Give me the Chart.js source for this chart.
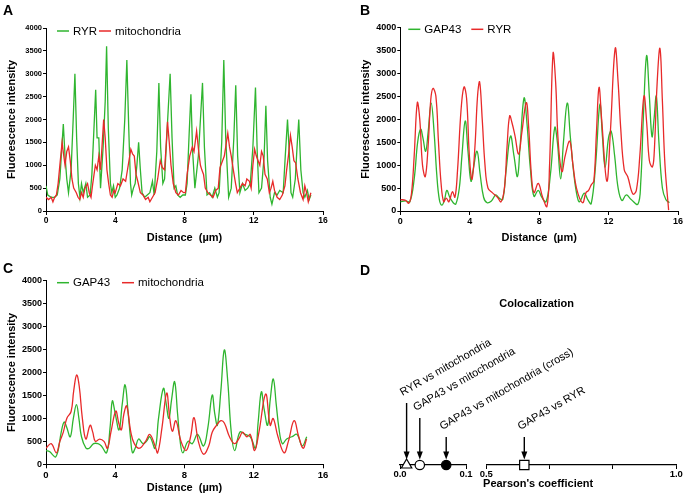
<!DOCTYPE html>
<html><head><meta charset="utf-8">
<script src="https://cdn.jsdelivr.net/npm/chart.js@4/dist/chart.umd.min.js"></script>
<style>
html,body{margin:0;padding:0;background:#fff;}
#wrap{position:relative;width:686px;height:502px;overflow:hidden;background:#fff;}
canvas{position:absolute;}
.lt{position:absolute;font:bold 14px "Liberation Sans",Arial,sans-serif;line-height:14px;color:#000;}
</style></head><body>
<div id="wrap">
<canvas id="cA" width="343" height="250" style="left:0;top:0"></canvas>
<canvas id="cB" width="343" height="250" style="left:343px;top:0"></canvas>
<canvas id="cC" width="343" height="252" style="left:0;top:250px"></canvas>
<canvas id="cD2" width="343" height="252" style="left:343px;top:250px"></canvas>
<canvas id="cD1" width="343" height="252" style="left:343px;top:250px"></canvas>
<div class="lt" style="left:3px;top:3px">A</div>
<div class="lt" style="left:360px;top:3px">B</div>
<div class="lt" style="left:3px;top:261px">C</div>
<div class="lt" style="left:360px;top:263px">D</div>
</div>
<script>
// ---------- DATA ----------
const xTicksLine = [0, 4, 8, 12, 16];
// Panel A
const aRyrX = [0,0.1,0.3,0.5,0.65,0.8,0.9,1.0,1.1,1.2,1.3,1.45,1.57,1.67,1.77,1.87,1.96,2.05,2.15,2.3,2.4,2.55,2.65,2.77,2.87,2.95,3.05,3.15,3.3,3.42,3.5,3.6,3.72,3.8,3.9,4.0,4.1,4.25,4.4,4.55,4.67,4.78,4.88,4.95,5.05,5.15,5.25,5.35,5.45,5.55,5.7,5.85,6.0,6.15,6.25,6.4,6.52,6.62,6.75,6.85,7.0,7.17,7.28,7.4,7.5,7.6,7.75,7.9,8.05,8.15,8.27,8.37,8.47,8.6,8.8,8.92,9.04,9.15,9.3,9.45,9.6,9.75,9.9,10.0,10.15,10.27,10.38,10.55,10.7,10.85,10.96,11.07,11.2,11.35,11.5,11.65,11.8,11.95,12.1,12.2,12.3,12.45,12.6,12.7,12.8,12.95,13.05,13.2,13.35,13.5,13.7,13.82,13.95,14.05,14.15,14.25,14.4,14.5,14.6,14.72,14.85,14.95,15.1,15.2,15.3];
const aRyrY = [550,350,300,300,350,700,1300,1900,1200,700,400,900,2000,3000,1600,600,300,600,400,600,300,350,800,1800,2650,1600,1600,500,1400,2400,3600,1800,600,400,550,300,350,500,900,2000,3300,1800,600,350,500,600,1000,1500,900,400,300,350,400,650,350,1300,2800,1400,600,700,1800,3000,1600,500,550,350,300,350,350,600,1700,2550,1300,500,1200,2000,2800,1400,350,400,300,500,300,400,1500,3300,1600,300,500,1600,2750,1200,400,600,450,500,600,1400,2700,1300,400,500,1200,2300,1100,300,150,400,350,450,400,1200,2000,1300,400,300,700,1400,2000,900,400,300,450,250,350];
const aMitoX = [0,0.15,0.3,0.4,0.5,0.6,0.7,0.8,0.93,1.03,1.1,1.2,1.3,1.4,1.5,1.6,1.75,1.85,1.95,2.05,2.15,2.25,2.4,2.5,2.6,2.7,2.85,2.95,3.05,3.15,3.25,3.33,3.42,3.52,3.62,3.72,3.82,3.92,4.0,4.15,4.3,4.45,4.6,4.75,4.9,5.0,5.1,5.2,5.3,5.45,5.6,5.75,5.9,6.0,6.15,6.3,6.45,6.6,6.72,6.85,6.95,7.02,7.12,7.22,7.35,7.5,7.65,7.8,7.95,8.05,8.15,8.3,8.45,8.55,8.7,8.82,8.92,9.0,9.1,9.2,9.35,9.5,9.65,9.8,9.95,10.05,10.2,10.3,10.42,10.5,10.6,10.7,10.82,10.95,11.05,11.2,11.35,11.5,11.6,11.75,11.85,11.95,12.05,12.15,12.25,12.35,12.45,12.55,12.65,12.78,12.9,13.0,13.1,13.2,13.35,13.5,13.65,13.8,13.9,14.0,14.12,14.22,14.32,14.42,14.55,14.7,14.85,14.95,15.05,15.15,15.3];
const aMitoY = [300,250,300,200,300,350,600,1000,1500,1200,1000,1300,1400,1100,700,500,400,300,250,400,300,500,600,400,300,600,1000,900,1200,900,1500,2000,1600,900,600,350,300,450,400,600,550,700,650,1000,1350,1250,1200,800,650,400,350,250,300,200,300,400,700,1100,950,900,1500,1950,1500,1000,600,400,350,450,400,400,800,1200,1400,1300,1750,1300,1000,900,800,500,400,350,300,450,500,950,1100,1200,1500,1700,1400,1200,900,600,400,500,600,550,700,650,500,1000,1350,1200,1100,1000,1300,1200,800,700,400,500,650,450,300,250,350,550,900,1200,1650,1400,1100,1050,700,400,250,550,400,200,400];
// Panel B
const bGapX = [0,0.3,0.55,0.8,1.0,1.17,1.3,1.46,1.6,1.78,1.95,2.1,2.25,2.4,2.55,2.68,2.85,3.05,3.2,3.4,3.55,3.74,3.9,4.07,4.2,4.42,4.6,4.8,5.0,5.25,5.5,5.7,5.9,6.1,6.35,6.55,6.75,6.9,7.13,7.3,7.5,7.7,7.95,8.15,8.4,8.65,8.9,9.05,9.24,9.4,9.62,9.8,10.0,10.2,10.33,10.6,10.8,11.0,11.25,11.5,11.65,11.8,12.0,12.15,12.35,12.55,12.77,13.02,13.3,13.69,13.85,14.0,14.19,14.35,14.5,14.62,14.75,14.9,15.1,15.3,15.5];
const bGapY = [200,220,200,700,1500,1780,1600,1300,1700,2350,1700,800,250,130,250,450,300,180,150,500,1200,1960,1300,650,900,1300,800,300,180,220,350,280,250,900,1630,1200,750,1400,2460,1900,900,320,450,300,200,800,1820,1500,700,1500,2350,1600,800,300,200,390,250,160,1000,2320,1600,950,1600,1740,1200,500,230,350,250,150,600,2000,3380,2500,1620,2000,2500,1500,500,250,180];
const bRyrX = [0,0.3,0.5,0.65,0.8,0.98,1.12,1.28,1.44,1.6,1.75,1.88,2.05,2.2,2.35,2.5,2.65,2.8,3.0,3.15,3.3,3.5,3.67,3.82,3.98,4.13,4.3,4.45,4.57,4.72,4.88,5.05,5.3,5.6,5.8,6.0,6.15,6.3,6.45,6.6,6.82,7.0,7.26,7.4,7.55,7.7,7.95,8.2,8.45,8.6,8.8,8.95,9.1,9.31,9.5,9.76,9.95,10.15,10.5,10.7,10.85,11.0,11.15,11.3,11.45,11.6,11.9,12.1,12.38,12.55,12.7,12.9,13.1,13.4,13.6,13.8,14.04,14.2,14.35,14.52,14.62,14.8,14.96,15.1,15.25,15.46];
const bRyrY = [250,230,170,400,1200,2360,2000,1000,750,1400,2400,2670,2500,1500,600,200,280,200,420,300,900,2200,2700,2450,1200,690,1400,2500,2810,2000,1000,500,400,300,200,500,1400,2070,1900,1650,1240,1700,2360,1800,800,400,600,300,100,1000,3430,2800,1500,860,1200,1520,1000,500,180,400,450,570,650,1700,2690,2000,650,1700,3540,2800,1800,900,750,370,450,1200,2500,1900,1100,960,1200,2800,3540,2400,1000,20];
// Panel C
const cGapX = [0,0.2,0.4,0.55,0.7,0.88,1.05,1.2,1.4,1.58,1.76,1.9,2.05,2.3,2.5,2.75,3.0,3.2,3.5,3.7,3.83,4.0,4.22,4.4,4.57,4.75,4.9,5.0,5.15,5.35,5.6,5.8,6.0,6.3,6.5,6.78,6.95,7.1,7.25,7.43,7.6,7.75,7.9,8.2,8.45,8.75,9.1,9.35,9.6,9.75,9.9,10.1,10.3,10.5,10.7,10.9,11.2,11.5,11.8,12.1,12.25,12.44,12.6,12.8,12.95,13.13,13.3,13.45,13.65,13.9,14.2,14.5,14.8,15.06];
const cGapY = [300,280,200,160,300,700,920,800,600,1000,1300,1000,600,360,350,450,450,400,250,800,1380,1100,750,1300,1730,1100,500,250,350,550,450,500,600,350,1000,1655,1300,1000,1400,1800,1100,500,250,500,450,650,400,800,1510,1100,850,1600,2490,1800,700,300,700,650,600,350,900,1580,1200,850,1400,1860,1300,800,450,550,600,650,400,600];
const cMitoX = [0,0.3,0.6,0.8,1.0,1.2,1.45,1.6,1.77,1.92,2.1,2.3,2.55,2.7,2.85,3.1,3.35,3.55,3.75,4.03,4.2,4.35,4.5,4.66,4.9,5.1,5.4,5.75,6.0,6.3,6.45,6.7,6.97,7.15,7.3,7.5,7.8,8.1,8.35,8.55,8.8,9.1,9.4,9.6,9.85,10.1,10.3,10.6,10.9,11.2,11.35,11.6,11.8,12.05,12.3,12.69,12.95,13.12,13.4,13.75,14.0,14.33,14.6,14.85,15.05];
const cMitoY = [350,450,250,500,700,1000,1150,1600,1945,1700,1000,550,850,700,500,550,500,350,700,1160,900,750,1100,1270,700,450,350,500,650,400,250,800,1550,1000,720,950,500,300,600,1016,500,220,400,700,850,950,900,600,450,600,700,600,650,300,700,1530,850,1000,600,250,500,950,600,350,550];
// Panel D
const dLabels = ['RYR vs mitochondria','GAP43 vs mitochondria','GAP43 vs mitochondria (cross)','GAP43 vs RYR'];
const dPearson = [0.01, 0.03, 0.07, 0.60];
const dLeftTicks = [0, 0.1];
const dLeftTickLabels = ['0.0','0.1'];
const dRightTicks = [0.5, 0.6667, 0.8333, 1.0];
const dRightTickLabels = ['0.5','','','1.0'];

// ---------- STYLE ----------
const FF = '"Liberation Sans", Arial, sans-serif';
Chart.defaults.font.family = FF;
Chart.defaults.color = '#000';
const GREEN = '#2fb52f', RED = '#e82a2a';
const pts = (xs, ys) => xs.map((x, i) => ({x, y: ys[i]}));

const inlineLegend = {
  id: 'inlineLegend',
  afterDatasetsDraw(chart, args, o) {
    if (!o || !o.xs) return;
    const ctx = chart.ctx, ca = chart.chartArea;
    ctx.save();
    ctx.font = o.size + 'px ' + FF;
    ctx.textBaseline = 'middle';
    chart.data.datasets.forEach((ds, i) => {
      const x = ca.left + o.xs[i], y = ca.top + o.dy;
      ctx.strokeStyle = ds.borderColor; ctx.lineWidth = 1.5;
      ctx.beginPath(); ctx.moveTo(x, y); ctx.lineTo(x + 12, y); ctx.stroke();
      ctx.fillStyle = '#000';
      ctx.fillText(ds.label, x + 16, y + 0.5);
    });
    ctx.restore();
  }
};

function lineChart(id, g) {
  return new Chart(document.getElementById(id), {
    type: 'line',
    data: { datasets: [
      { label: g.names[0], data: pts(g.x0, g.y0), borderColor: GREEN, order: 1 },
      { label: g.names[1], data: pts(g.x1, g.y1), borderColor: RED, order: 0 }
    ]},
    options: {
      responsive: false, animation: false, devicePixelRatio: 1,
      parsing: false,
      elements: {
        point: { radius: 0 },
        line: { borderWidth: 1.3, tension: g.smooth ? 0.4 : 0, cubicInterpolationMode: 'default' }
      },
      layout: { padding: { left: 0, top: g.top, right: g.right, bottom: 0 } },
      plugins: { legend: { display: false }, tooltip: { enabled: false },
        inlineLegend: { xs: g.legX, dy: g.legDy, size: 11.5 } },
      scales: {
        x: { type: 'linear', min: 0, max: 16,
          afterBuildTicks: s => { s.ticks = xTicksLine.map(v => ({value: v})); },
          ticks: { font: { size: g.xtf, weight: 'bold' }, padding: 1, maxRotation: 0, callback: v => String(v) },
          grid: { drawOnChartArea: false, drawTicks: true, tickLength: 4, color: '#000' },
          border: { display: true, color: '#000', width: 1 },
          title: { display: true, text: 'Distance  (µm)', font: { size: 11, weight: 'bold' }, padding: { top: 0, bottom: g.xtp } },
          afterFit: s => { s.height = g.xh; }
        },
        y: { min: 0, max: 4000,
          ticks: { stepSize: 500, font: { size: g.ytf, weight: 'bold' }, padding: 1, callback: v => String(v) },
          grid: { drawOnChartArea: false, drawTicks: true, tickLength: 3, color: '#000' },
          border: { display: true, color: '#000', width: 1 },
          title: { display: true, text: 'Fluorescence intensity', font: { size: 11, weight: 'bold' }, padding: { top: g.ytp, bottom: 0 } },
          afterFit: s => { s.width = g.yw; }
        }
      }
    },
    plugins: [inlineLegend]
  });
}

lineChart('cA', { names: ['RYR','mitochondria'], x0: aRyrX, y0: aRyrY, x1: aMitoX, y1: aMitoY, smooth: false,
  top: 28, right: 20, yw: 46, xh: 39, xtp: 5.4, ytp: 5.4, xtf: 8.5, ytf: 7.5, legX: [11, 53], legDy: 3 });
lineChart('cB', { names: ['GAP43','RYR'], x0: bGapX, y0: bGapY, x1: bRyrX, y1: bRyrY, smooth: true,
  top: 27.3, right: 8, yw: 57.3, xh: 39, xtp: 5, ytp: 16, xtf: 9, ytf: 9, legX: [8, 71], legDy: 2 });
lineChart('cC', { names: ['GAP43','mitochondria'], x0: cGapX, y0: cGapY, x1: cMitoX, y1: cMitoY, smooth: true,
  top: 30.7, right: 20, yw: 46, xh: 37.7, xtp: 7.1, ytp: 5.7, xtf: 9.5, ytf: 9, legX: [11, 76], legDy: 2 });

// ---------- Panel D ----------
const pointer = {
  id: 'pointer',
  afterDatasetsDraw(chart, args, o) {
    const ctx = chart.ctx;
    ctx.save();
    chart.data.datasets.forEach((ds, i) => {
      const p = chart.getDatasetMeta(i).data[0];
      const x = p.x, y = p.y;
      const top = y - o.rise[ds.idx], tip = y - 5.5;
      ctx.strokeStyle = '#000'; ctx.fillStyle = '#000'; ctx.lineWidth = 1.4;
      ctx.beginPath(); ctx.moveTo(x, top); ctx.lineTo(x, tip - 6); ctx.stroke();
      ctx.beginPath(); ctx.moveTo(x - 3, tip - 8); ctx.lineTo(x + 3, tip - 8); ctx.lineTo(x, tip); ctx.closePath(); ctx.fill();
      ctx.save();
      ctx.translate(x - 4, top - 7); ctx.rotate(-Math.PI / 6);
      ctx.font = '11px ' + FF; ctx.textBaseline = 'alphabetic'; ctx.textAlign = 'left';
      ctx.fillText(ds.label, 0, 0);
      ctx.restore();
    });
    if (o.titles) {
      const left = o.leftEdge, right = chart.chartArea.right, cx = (left + right) / 2;
      ctx.font = 'bold 11px ' + FF; ctx.textAlign = 'center'; ctx.textBaseline = 'middle';
      ctx.fillText('Colocalization', cx - 1.5, 53.5);
      ctx.fillText("Pearson's coefficient", cx, chart.chartArea.bottom + 18.5);
    }
    ctx.restore();
  }
};
const styles = [
  { pointStyle: 'triangle', radius: 6, bg: '#fff' },
  { pointStyle: 'circle', radius: 4.7, bg: '#fff' },
  { pointStyle: 'circle', radius: 4.7, bg: '#000' },
  { pointStyle: 'rect', radius: 6.6, bg: '#fff' }
];
function dDatasets(filter) {
  const out = [];
  dPearson.forEach((v, i) => {
    if (!filter(v)) return;
    out.push({ label: dLabels[i], idx: i, data: [{x: v, y: 0}], pointStyle: styles[i].pointStyle,
      pointRadius: styles[i].radius, pointBackgroundColor: styles[i].bg, pointBorderColor: '#000',
      pointBorderWidth: 1.2, showLine: false, clip: false });
  });
  return out;
}
function dChart(id, g) {
  return new Chart(document.getElementById(id), {
    type: 'scatter',
    data: { datasets: dDatasets(g.filter) },
    options: {
      responsive: false, animation: false, devicePixelRatio: 1,
      layout: { padding: { left: g.left, right: g.right, top: 100, bottom: 0 } },
      plugins: { legend: { display: false }, tooltip: { enabled: false },
        pointer: { rise: [62, 47, 28, 28], titles: g.titles, leftEdge: 57 } },
      scales: {
        x: { type: 'linear', min: g.min, max: g.max,
          afterBuildTicks: s => { s.ticks = g.ticks.map(v => ({value: v})); },
          ticks: { font: { size: 9.5, weight: 'bold' }, padding: 0, maxRotation: 0, autoSkip: false,
            callback: (v, i) => g.tickLabels[i] },
          grid: { drawOnChartArea: false, drawTicks: true, tickLength: 4, color: '#000' },
          border: { display: true, color: '#000', width: 1.2 },
          afterFit: s => { s.height = 37; }
        },
        y: { display: false, min: 0, max: 1 }
      }
    },
    plugins: [pointer]
  });
}
dChart('cD1', { filter: v => v <= 0.1, min: 0, max: 0.1, ticks: dLeftTicks, tickLabels: dLeftTickLabels, left: 57, right: 220, titles: false });
dChart('cD2', { filter: v => v >= 0.5, min: 0.5, max: 1.0, ticks: dRightTicks, tickLabels: dRightTickLabels, left: 143.3, right: 9.7, titles: true });
</script>
</body></html>
